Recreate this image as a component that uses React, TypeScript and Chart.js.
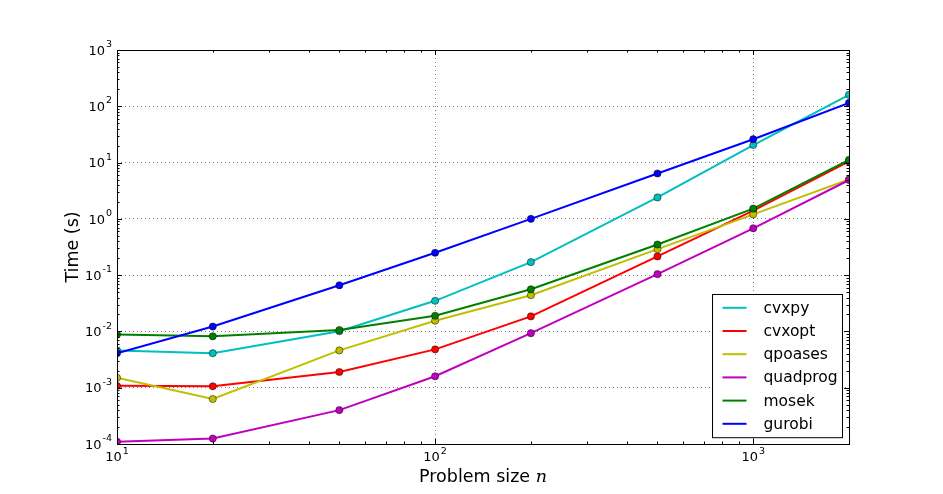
import { useEffect, useRef } from 'react';
import { Chart, registerables } from 'chart.js';

Chart.register(...registerables);

// problem sizes n (x axis)
const sizes = [10, 20, 50, 100, 200, 500, 1000, 2000];

// solve times in seconds
const cvxpy = [0.0046, 0.0041, 0.0101, 0.035, 0.17, 2.4, 20.5, 160];
const cvxopt = [0.00108, 0.00106, 0.0019, 0.0048, 0.0185, 0.215, 1.4, 10.5];
const qpoases = [0.0015, 0.00063, 0.0046, 0.0155, 0.044, 0.29, 1.2, 5.0];
const quadprog = [0.00011, 0.000125, 0.0004, 0.0016, 0.0093, 0.104, 0.68, 4.9];
const mosek = [0.0088, 0.0082, 0.0106, 0.019, 0.056, 0.35, 1.52, 11.2];
const gurobi = [0.0041, 0.0122, 0.066, 0.25, 1.0, 6.4, 26, 115];

const seriesNames = ['cvxpy', 'cvxopt', 'qpoases', 'quadprog', 'mosek', 'gurobi'];
const seriesValues = [cvxpy, cvxopt, qpoases, quadprog, mosek, gurobi];
const seriesColors = ['#00bfbf', '#ff0000', '#bfbf00', '#bf00bf', '#008000', '#0000ff'];

// decade tick labels (10^k) and minor tick multipliers
const xExponents = [1, 2, 3];
const yExponents = [-4, -3, -2, -1, 0, 1, 2, 3];
const minorSteps = [2, 3, 4, 5, 6, 7, 8, 9];

const X_MIN = 10;
const X_MAX = 2000;
const Y_MIN = 1e-4;
const Y_MAX = 1e3;

const FONT = '"DejaVu Sans", sans-serif';

function buildTicks(exps: number[], min: number, max: number) {
  const ticks: { value: number; major: boolean }[] = [];
  exps.forEach((e) => {
    ticks.push({ value: Math.pow(10, e), major: true });
    minorSteps.forEach((m) => ticks.push({ value: m * Math.pow(10, e), major: false }));
  });
  return ticks.filter((t) => t.value >= min && t.value <= max * 1.0001);
}

function drawPower(ctx: CanvasRenderingContext2D, exp: number, x: number, y: number, align: 'right' | 'center') {
  const base = '10';
  const sup = String(exp);
  ctx.font = `13px ${FONT}`;
  const bw = ctx.measureText(base).width;
  ctx.font = `9.5px ${FONT}`;
  const ew = ctx.measureText(sup).width;
  const total = bw + ew + 1;
  const left = align === 'right' ? x - total : x - total / 2;
  ctx.textAlign = 'left';
  ctx.textBaseline = 'alphabetic';
  ctx.font = `13px ${FONT}`;
  ctx.fillText(base, left, y);
  ctx.font = `9.5px ${FONT}`;
  ctx.fillText(sup, left + bw + 1, y - 7.5);
}

const axesPlugin = {
  id: 'mplAxes',
  afterDraw(chart: any) {
    const { ctx, chartArea: a, scales } = chart;
    const xs = scales.x;
    const ys = scales.y;
    ctx.save();

    // frame
    ctx.strokeStyle = '#000';
    ctx.lineWidth = 1;
    ctx.strokeRect(Math.round(a.left) + 0.5, Math.round(a.top) + 0.5, Math.round(a.right - a.left), Math.round(a.bottom - a.top));

    // inward ticks on all four sides
    ctx.beginPath();
    xs.ticks.forEach((t: any) => {
      const px = Math.round(xs.getPixelForValue(t.value)) + 0.5;
      const len = t.major ? 5 : 2.5;
      ctx.moveTo(px, a.bottom);
      ctx.lineTo(px, a.bottom - len);
      ctx.moveTo(px, a.top);
      ctx.lineTo(px, a.top + len);
    });
    ys.ticks.forEach((t: any) => {
      const py = Math.round(ys.getPixelForValue(t.value)) + 0.5;
      const len = t.major ? 5 : 2.5;
      ctx.moveTo(a.left, py);
      ctx.lineTo(a.left + len, py);
      ctx.moveTo(a.right, py);
      ctx.lineTo(a.right - len, py);
    });
    ctx.stroke();

    // tick labels
    ctx.fillStyle = '#000';
    xExponents.forEach((e) => {
      drawPower(ctx, e, xs.getPixelForValue(Math.pow(10, e)), a.bottom + 17, 'center');
    });
    yExponents.forEach((e) => {
      drawPower(ctx, e, a.left - 5, ys.getPixelForValue(Math.pow(10, e)) + 4.7, 'right');
    });

    // axis titles
    ctx.textBaseline = 'alphabetic';
    const title = 'Problem size ';
    ctx.font = `17.5px ${FONT}`;
    const tw = ctx.measureText(title).width;
    ctx.font = `italic 17.5px "DejaVu Serif", serif`;
    const nw = ctx.measureText('n').width;
    const cx = (a.left + a.right) / 2;
    const startX = cx - (tw + nw) / 2;
    ctx.textAlign = 'left';
    ctx.font = `17.5px ${FONT}`;
    ctx.fillText(title, startX, a.bottom + 38);
    ctx.font = `italic 17.5px "DejaVu Serif", serif`;
    ctx.fillText('n', startX + tw, a.bottom + 38);

    ctx.save();
    ctx.translate(a.left - 39, (a.top + a.bottom) / 2);
    ctx.rotate(-Math.PI / 2);
    ctx.textAlign = 'center';
    ctx.font = `17.5px ${FONT}`;
    ctx.fillText('Time (s)', 0, 0);
    ctx.restore();

    // legend box, lower right
    const boxW = 130;
    const rowH = 23.2;
    const boxH = seriesNames.length * rowH + 4;
    const bx = Math.round(a.right - 7 - boxW) + 0.5;
    const by = Math.round(a.bottom - 7 - boxH) + 0.5;
    ctx.fillStyle = '#fff';
    ctx.fillRect(bx, by, boxW, boxH);
    ctx.strokeStyle = '#000';
    ctx.lineWidth = 1;
    ctx.strokeRect(bx, by, boxW, boxH);
    seriesNames.forEach((name, i) => {
      const ry = by + 13.3 + i * rowH;
      ctx.strokeStyle = seriesColors[i];
      ctx.lineWidth = 2;
      ctx.beginPath();
      ctx.moveTo(bx + 10, ry);
      ctx.lineTo(bx + 34, ry);
      ctx.stroke();
      ctx.fillStyle = '#000';
      ctx.font = `15.5px ${FONT}`;
      ctx.textAlign = 'left';
      ctx.textBaseline = 'middle';
      ctx.fillText(name, bx + 51, ry + 1);
    });

    ctx.restore();
  },
};

function gridColor(c: any) {
  return c.tick && c.tick.major ? 'rgba(0,0,0,0.5)' : 'rgba(0,0,0,0)';
}

export default function App() {
  const canvasRef = useRef<HTMLCanvasElement>(null);
  const chartRef = useRef<Chart | null>(null);

  useEffect(() => {
    if (!canvasRef.current) return;
    if (chartRef.current) chartRef.current.destroy();

    const datasets = seriesNames.map((name, i) => ({
      label: name,
      data: sizes.map((n, j) => ({ x: n, y: seriesValues[i][j] })),
      borderColor: seriesColors[i],
      backgroundColor: seriesColors[i],
      pointBackgroundColor: seriesColors[i],
      pointBorderColor: 'rgba(0,0,0,0.8)',
      pointBorderWidth: 0.6,
      pointRadius: 3.6,
      borderWidth: 2,
      tension: 0,
      fill: false,
      order: seriesNames.length - i,
    }));

    chartRef.current = new Chart(canvasRef.current, {
      type: 'line',
      data: { datasets },
      options: {
        responsive: true,
        maintainAspectRatio: false,
        animation: false,
        layout: { padding: { left: 117, top: 50, right: 94, bottom: 50 } },
        plugins: {
          legend: { display: false },
          tooltip: { enabled: false },
        },
        scales: {
          x: {
            type: 'logarithmic',
            min: X_MIN,
            max: X_MAX,
            afterBuildTicks: (s: any) => { s.ticks = buildTicks(xExponents, X_MIN, X_MAX); },
            ticks: { display: false, autoSkip: false },
            grid: { color: gridColor, lineWidth: 1, drawTicks: false },
            border: { display: false, dash: [1, 3] },
          },
          y: {
            type: 'logarithmic',
            min: Y_MIN,
            max: Y_MAX,
            afterBuildTicks: (s: any) => { s.ticks = buildTicks(yExponents, Y_MIN, Y_MAX); },
            ticks: { display: false, autoSkip: false },
            grid: { color: gridColor, lineWidth: 1, drawTicks: false },
            border: { display: false, dash: [1, 3] },
          },
        },
      },
      plugins: [axesPlugin],
    });

    return () => { chartRef.current?.destroy(); };
  }, []);

  return (
    <div style={{ position: 'absolute', left: 0, top: 0, width: 943, height: 494, background: '#fff' }}>
      <canvas ref={canvasRef} />
    </div>
  );
}
